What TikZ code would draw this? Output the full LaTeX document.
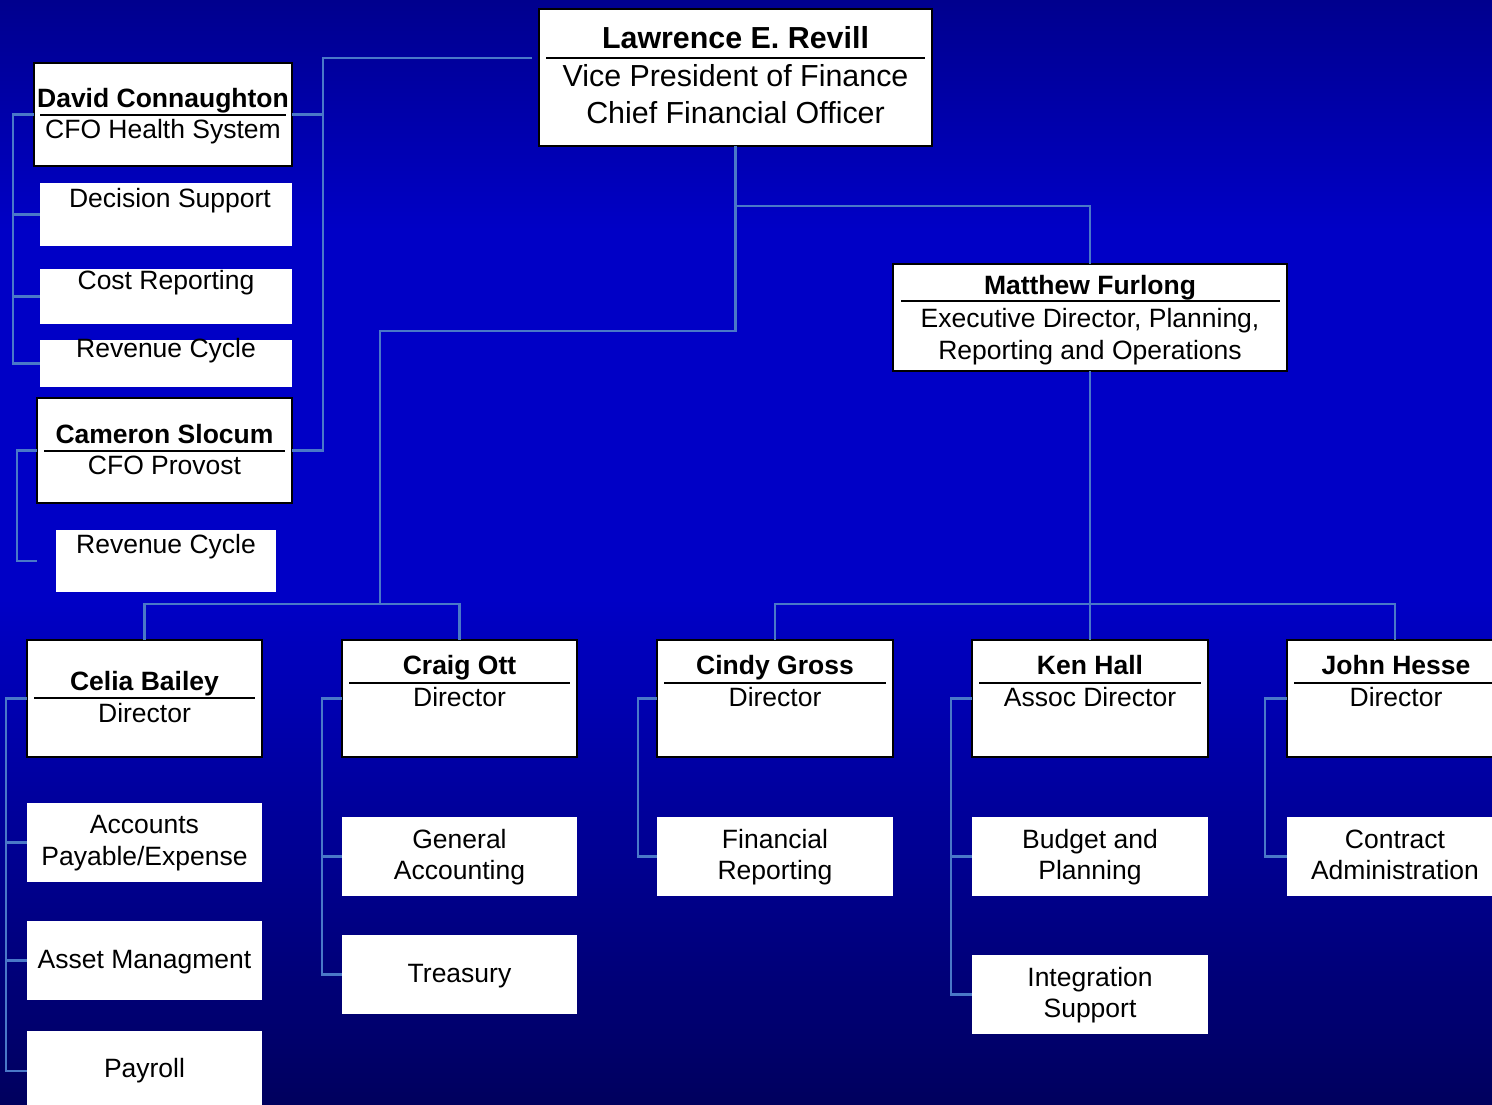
\documentclass[tikz,border=0pt]{standalone}
\usepackage{fontspec}
\setmainfont{Liberation Sans}
\definecolor{bgtop}{RGB}{0,0,142}
\definecolor{bgmid}{RGB}{0,0,198}
\definecolor{bgbot}{RGB}{0,0,94}
\definecolor{conncol}{RGB}{74,120,200}
\begin{document}
\begin{tikzpicture}[x=1pt,y=-1pt,
  hbox/.style={draw=black,line width=1.8pt,fill=white,inner sep=0pt,outer sep=0pt,anchor=north west},
  pbox/.style={fill=white,inner sep=0pt,outer sep=0pt,anchor=north west},
  conn/.style={draw=conncol,line width=2.5pt},
  sepline/.style={draw=black,line width=1.5pt},
  txt/.style={font=\fontsize{26.5}{31}\selectfont,anchor=base,inner sep=0pt,align=center},
  txtb/.style={font=\fontsize{26.5}{31}\selectfont\bfseries,anchor=base,inner sep=0pt,align=center},
  big/.style={font=\fontsize{30.4}{37}\selectfont,anchor=base,inner sep=0pt,align=center},
  bigb/.style={font=\fontsize{30.4}{37}\selectfont\bfseries,anchor=base,inner sep=0pt,align=center},
]
\useasboundingbox (0,0) rectangle (1492,1104);
\clip (0,0) rectangle (1492,1104);
% background
\shade[top color=bgtop,bottom color=bgmid] (0,0) rectangle (1492,230);
\fill[bgmid] (0,229) rectangle (1492,600);
\shade[top color=bgmid,bottom color=bgbot] (0,599) rectangle (1492,1104);

% ---------- boxes ----------
\node[hbox,minimum width=393pt,minimum height=137pt] (revill) at (539,9) {};
\node[hbox,minimum width=258pt,minimum height=103pt] (david) at (34,63) {};
\node[pbox,minimum width=252pt,minimum height=63pt] (decision) at (40,183) {};
\node[pbox,minimum width=252pt,minimum height=55pt] (cost) at (40,269) {};
\node[pbox,minimum width=252pt,minimum height=47pt] (revenue) at (40,340) {};
\node[hbox,minimum width=255pt,minimum height=105pt] (cameron) at (37,398) {};
\node[pbox,minimum width=220pt,minimum height=62pt] (revenue2) at (56,530) {};
\node[hbox,minimum width=394pt,minimum height=107pt] (furlong) at (893,264) {};
\node[hbox,minimum width=235pt,minimum height=117pt] (celia) at (27,640) {};
\node[hbox,minimum width=235pt,minimum height=117pt] (craig) at (342,640) {};
\node[hbox,minimum width=236pt,minimum height=117pt] (cindy) at (657,640) {};
\node[hbox,minimum width=236pt,minimum height=117pt] (ken) at (972,640) {};
\node[hbox,minimum width=216pt,minimum height=117pt] (john) at (1287,640) {};
\node[pbox,minimum width=235pt,minimum height=79pt] (accounts) at (27,803) {};
\node[pbox,minimum width=235pt,minimum height=79pt] (asset) at (27,921) {};
\node[pbox,minimum width=235pt,minimum height=80pt] (payroll) at (27,1031) {};
\node[pbox,minimum width=235pt,minimum height=79pt] (general) at (342,817) {};
\node[pbox,minimum width=235pt,minimum height=79pt] (treasury) at (342,935) {};
\node[pbox,minimum width=236pt,minimum height=79pt] (financial) at (657,817) {};
\node[pbox,minimum width=236pt,minimum height=79pt] (budget) at (972,817) {};
\node[pbox,minimum width=236pt,minimum height=79pt] (integration) at (972,955) {};
\node[pbox,minimum width=216pt,minimum height=79pt] (contract) at (1287,817) {};

% ---------- separators ----------
\draw[sepline] (546,58) -- (925,58);
\draw[sepline] (40,115) -- (286,115);
\draw[sepline] (44,451) -- (285,451);
\draw[sepline] (901,301) -- (1280,301);
\draw[sepline] (34,698) -- (255,698);
\draw[sepline] (349,683) -- (570,683);
\draw[sepline] (664,683) -- (886,683);
\draw[sepline] (979,683) -- (1201,683);
\draw[sepline] (1294,683) -- (1496,683);

% ---------- texts ----------
\node[bigb] (t-revill1) at (735.5,48) {Lawrence E. Revill};
\node[big] (t-revill2) at (735.5,86) {Vice President of Finance};
\node[big] (t-revill3) at (735.5,123) {Chief Financial Officer};
\node[txtb] (t-david1) at (163,107) {David Connaughton};
\node[txt] (t-david2) at (163,138) {CFO Health System};
\node[txt] (t-decision) at (170,207) {Decision Support};
\node[txt] (t-cost) at (166,289) {Cost Reporting};
\node[txt] (t-revenue) at (166,357) {Revenue Cycle};
\node[txtb] (t-cameron1) at (164.5,443) {Cameron Slocum};
\node[txt] (t-cameron2) at (164.5,474) {CFO Provost};
\node[txt] (t-revenue2) at (166,553) {Revenue Cycle};
\node[txtb] (t-furlong1) at (1090,294) {Matthew Furlong};
\node[txt] (t-furlong2) at (1090,327) {Executive Director, Planning,};
\node[txt] (t-furlong3) at (1090,359) {Reporting and Operations};
\node[txtb] (t-celia1) at (144.5,690) {Celia Bailey};
\node[txt] (t-celia2) at (144.5,722) {Director};
\node[txtb] (t-craig1) at (459.5,674) {Craig Ott};
\node[txt] (t-craig2) at (459.5,706) {Director};
\node[txtb] (t-cindy1) at (775,674) {Cindy Gross};
\node[txt] (t-cindy2) at (775,706) {Director};
\node[txtb] (t-ken1) at (1090,674) {Ken Hall};
\node[txt] (t-ken2) at (1090,706) {Assoc Director};
\node[txtb] (t-john1) at (1396,674) {John Hesse};
\node[txt] (t-john2) at (1396,706) {Director};
\node[txt] (t-accounts1) at (144.5,833) {Accounts};
\node[txt] (t-accounts2) at (144.5,865) {Payable/Expense};
\node[txt] (t-asset) at (144.5,968) {Asset Managment};
\node[txt] (t-payroll) at (144.5,1077) {Payroll};
\node[txt] (t-general1) at (459.5,848) {General};
\node[txt] (t-general2) at (459.5,879) {Accounting};
\node[txt] (t-treasury) at (459.5,982) {Treasury};
\node[txt] (t-financial1) at (775,848) {Financial};
\node[txt] (t-financial2) at (775,879) {Reporting};
\node[txt] (t-budget1) at (1090,848) {Budget and};
\node[txt] (t-budget2) at (1090,879) {Planning};
\node[txt] (t-integration1) at (1090,986) {Integration};
\node[txt] (t-integration2) at (1090,1017) {Support};
\node[txt] (t-contract1) at (1395,848) {Contract};
\node[txt] (t-contract2) at (1395,879) {Administration};

% ---------- connectors ----------
\coordinate (rvl) at (532,58);
\coordinate (rc2end) at (37,561);
\draw[conn] (rvl) -- (323,58) |- (cameron.east);
\draw[conn] (323,114.5) -- (david.east);
\draw[conn] (david.west) -- (13,114.5) |- (revenue.west);
\draw[conn] (13,214.5) -- (decision.west);
\draw[conn] (13,296.5) -- (cost.west);
\draw[conn] (cameron.west) -- (17,450.5) |- (rc2end);
\draw[conn] (revill.south) -- (735.5,331) -- (380,331) -- (380,604);
\draw[conn] (735.5,206) -| (furlong.north);
\draw[conn] (celia.north) |- (380,604) -| (craig.north);
\draw[conn] (furlong.south) -- (ken.north);
\draw[conn] (cindy.north) |- (1090,604) -| (john.north);
\draw[conn] (celia.west) -- (6,698.5) |- (payroll.west);
\draw[conn] (6,842.5) -- (accounts.west);
\draw[conn] (6,960.5) -- (asset.west);
\draw[conn] (craig.west) -- (322,698.5) |- (treasury.west);
\draw[conn] (322,856.5) -- (general.west);
\draw[conn] (cindy.west) -- (638,698.5) |- (financial.west);
\draw[conn] (ken.west) -- (951,698.5) |- (integration.west);
\draw[conn] (951,856.5) -- (budget.west);
\draw[conn] (john.west) -- (1265,698.5) |- (contract.west);
\end{tikzpicture}
\end{document}
